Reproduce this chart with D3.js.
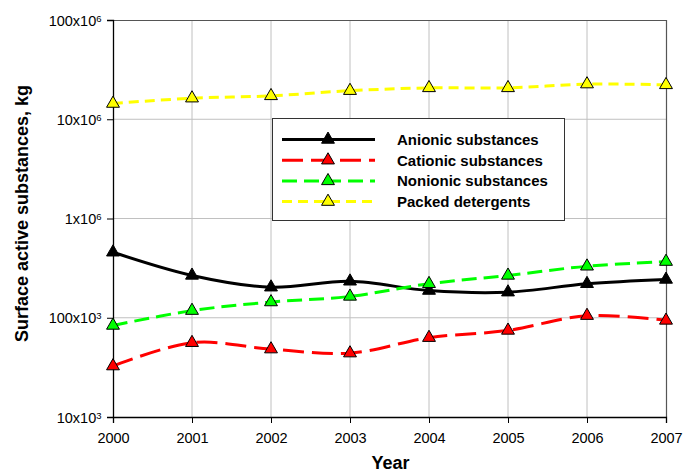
<!DOCTYPE html>
<html>
<head>
<meta charset="utf-8">
<script src="https://cdn.jsdelivr.net/npm/d3@7"></script>
<style>
  body { margin: 0; background: #fff; }
  svg { display: block; font-family: "Liberation Sans", Arial, sans-serif; }
</style>
</head>
<body>
<svg id="chart" width="683" height="473"></svg>
<script>
// data
var years = [2000, 2001, 2002, 2003, 2004, 2005, 2006, 2007];
var anionic = [457e3, 267e3, 203e3, 233e3, 188e3, 181e3, 220e3, 243e3];
var cationic = [32.6e3, 56e3, 48.3e3, 44e3, 63e3, 74.5e3, 105e3, 94e3];
var nonionic = [83.6e3, 118e3, 144e3, 164e3, 220e3, 267e3, 330e3, 368e3];
var packed = [14.4e6, 16.3e6, 17.2e6, 19.4e6, 20.7e6, 20.7e6, 22.6e6, 22.2e6];
var yTicks = [1e4, 1e5, 1e6, 1e7, 1e8];
var yTickLabels = [["10x10", "3"], ["100x10", "3"], ["1x10", "6"], ["10x10", "6"], ["100x10", "6"]];
var seriesNames = ["Anionic substances", "Cationic substances", "Nonionic substances", "Packed detergents"];

var series = [
    {name: seriesNames[0], values: anionic, color: "#000000", fill: "#000000", dash: null},
    {name: seriesNames[1], values: cationic, color: "#ff0000", fill: "#ff0000", dash: "21,8"},
    {name: seriesNames[2], values: nonionic, color: "#00ff00", fill: "#00ff00", dash: "15,7"},
    {name: seriesNames[3], values: packed, color: "#ffff00", fill: "#ffff00", dash: "10,6"}
];

var plotLeft = 113, plotRight = 666, plotTop = 20, plotBottom = 417;
var svg = d3.select("#chart");

var x = d3.scaleLinear().domain([2000, 2007]).range([plotLeft, plotRight]);
var y = d3.scaleLog().domain([1e4, 1e8]).range([plotBottom, plotTop]);

// gridlines
var grid = svg.append("g");
grid.selectAll("line.h").data(yTicks.slice(1, -1)).enter().append("line")
    .attr("x1", plotLeft).attr("x2", plotRight)
    .attr("y1", function (d) { return y(d); }).attr("y2", function (d) { return y(d); })
    .attr("stroke", "#c0c0c0").attr("stroke-width", 1);
grid.selectAll("line.v").data(years.slice(1, -1)).enter().append("line")
    .attr("y1", plotTop).attr("y2", plotBottom)
    .attr("x1", function (d) { return x(d); }).attr("x2", function (d) { return x(d); })
    .attr("stroke", "#c0c0c0").attr("stroke-width", 1);

// plot area border (top and right)
svg.append("path")
    .attr("d", "M" + plotLeft + "," + (plotTop + 0.5) + "H" + (plotRight + 0.5) + "V" + plotBottom)
    .attr("fill", "none").attr("stroke", "#555").attr("stroke-width", 1.2);

// axes
var yAxis = d3.axisLeft(y).tickValues(yTicks).tickSize(6).tickFormat("");
var yAxisG = svg.append("g").attr("transform", "translate(" + plotLeft + ",0)").call(yAxis);
yAxisG.select(".domain").attr("stroke", "#000").attr("stroke-width", 1.3);
yAxisG.selectAll(".tick line").attr("stroke", "#000");
yAxisG.selectAll(".tick").each(function (d, i) {
    var t = d3.select(this).append("text")
        .attr("x", -11.5).attr("dy", "0.36em")
        .attr("text-anchor", "end").attr("fill", "#000")
        .style("font-size", "14.5px");
    t.append("tspan").text(yTickLabels[i][0]);
    t.append("tspan").attr("dy", "-0.42em").style("font-size", "9.5px").text(yTickLabels[i][1]);
});

var xAxis = d3.axisBottom(x).tickValues(years).tickSize(6).tickFormat(d3.format("d"));
var xAxisG = svg.append("g").attr("transform", "translate(0," + plotBottom + ")").call(xAxis);
xAxisG.select(".domain").attr("stroke", "#000").attr("stroke-width", 1.3);
xAxisG.selectAll(".tick line").attr("stroke", "#000");
xAxisG.selectAll(".tick text").attr("y", 16).attr("fill", "#000").style("font-size", "14.5px");

// axis titles
svg.append("text").attr("x", (plotLeft + plotRight) / 2 + 1).attr("y", 469)
    .attr("text-anchor", "middle").style("font-size", "18px").style("font-weight", "bold")
    .text("Year");
svg.append("text").attr("transform", "translate(28,213.5) rotate(-90)")
    .attr("text-anchor", "middle").style("font-size", "18px").style("font-weight", "bold")
    .text("Surface active substances, kg");

// lines
var line = d3.line()
    .x(function (d, i) { return x(years[i]); })
    .y(function (d) { return y(d); })
    .curve(d3.curveCardinal.tension(0));
var tri = d3.symbol().type(d3.symbolTriangle).size(72);

series.forEach(function (s) {
    svg.append("path").datum(s.values)
        .attr("d", line).attr("fill", "none")
        .attr("stroke", s.color).attr("stroke-width", 3)
        .attr("stroke-dasharray", s.dash);
});
series.forEach(function (s) {
    svg.append("g").selectAll("path").data(s.values).enter().append("path")
        .attr("d", tri)
        .attr("transform", function (d, i) { return "translate(" + x(years[i]) + "," + y(d) + ")"; })
        .attr("fill", s.fill).attr("stroke", "#000").attr("stroke-width", 1);
});

// legend
var legend = svg.append("g");
legend.append("rect").attr("x", 272.5).attr("y", 118.5).attr("width", 292).attr("height", 102)
    .attr("fill", "#fff").attr("stroke", "#333").attr("stroke-width", 1);
var rows = legend.selectAll("g").data(series).enter().append("g")
    .attr("transform", function (d, i) { return "translate(0," + (139.5 + i * 20.7) + ")"; });
rows.append("line").attr("x1", 282).attr("x2", 375)
    .attr("stroke", function (d) { return d.color; }).attr("stroke-width", 3)
    .attr("stroke-dasharray", function (d) { return d.dash; });
rows.append("path").attr("d", tri).attr("transform", "translate(328,0)")
    .attr("fill", function (d) { return d.fill; }).attr("stroke", "#000");
rows.append("text").attr("x", 397).attr("dy", "0.36em")
    .style("font-size", "15px").style("font-weight", "bold")
    .text(function (d) { return d.name; });
</script>
</body>
</html>
